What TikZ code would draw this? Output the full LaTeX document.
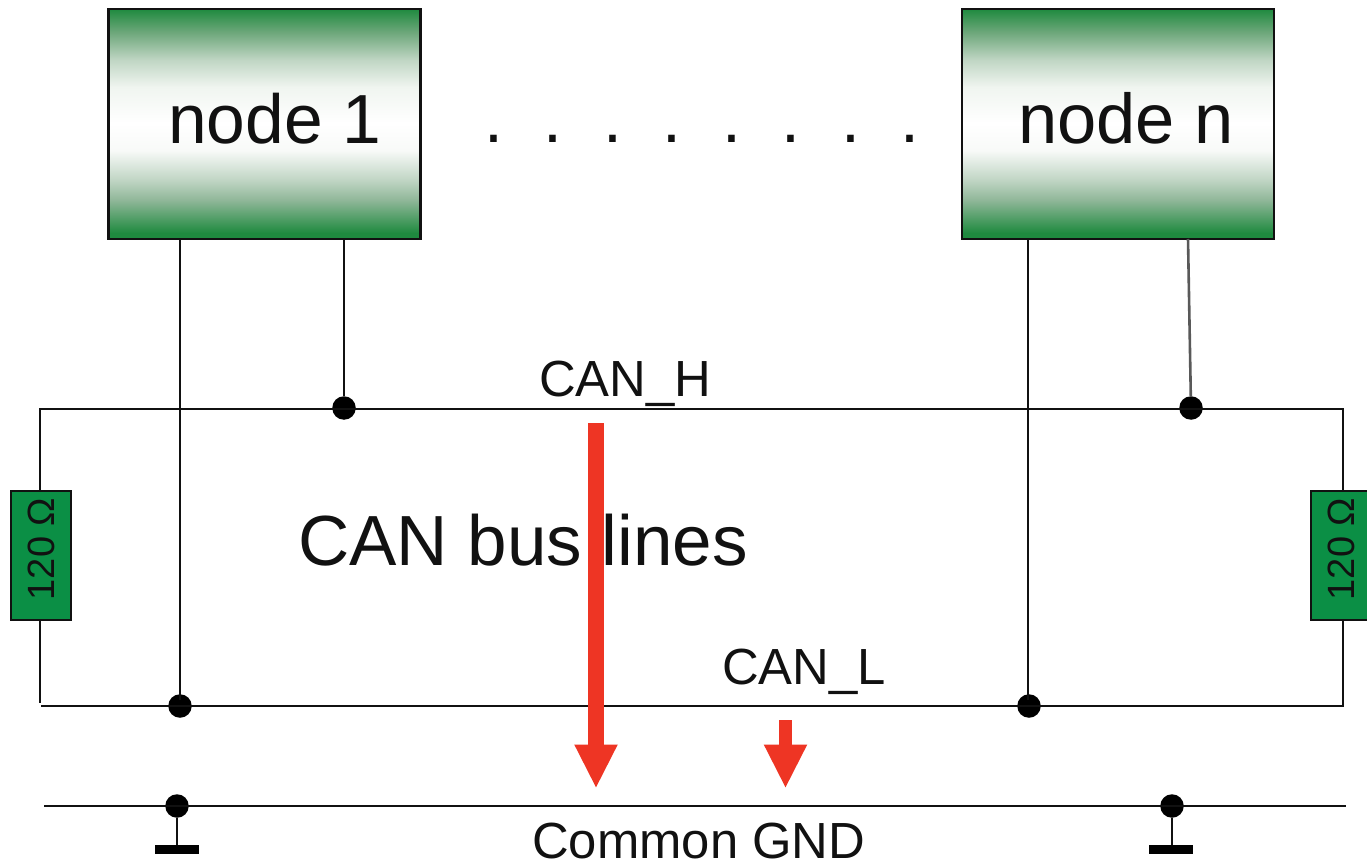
\documentclass[tikz,border=0pt]{standalone}
\usepackage{fontspec}
\setmainfont{Liberation Sans}
\usetikzlibrary{arrows.meta}
\definecolor{boxgreen}{HTML}{1F8A3F}
\definecolor{resgreen}{HTML}{0B8F45}
\definecolor{arrowred}{HTML}{EE3524}
\definecolor{inkblack}{HTML}{111111}
\definecolor{stopa}{RGB}{144,183,153}
\definecolor{stopb}{RGB}{192,213,196}
\definecolor{stopc}{RGB}{248,250,248}
\definecolor{stopd}{RGB}{240,245,240}
\definecolor{stope}{RGB}{192,214,196}
\definecolor{stopf}{RGB}{111,168,124}
\newskip\dotgap
\dotgap=40.6pt
\pgfdeclareverticalshading{boxgrad}{100bp}{
  color(0bp)=(boxgreen);
  color(26.3bp)=(boxgreen);
  color(33.5bp)=(stopa);
  color(37.8bp)=(stopb);
  color(44.3bp)=(stopc);
  color(50.2bp)=(white);
  color(58bp)=(stopd);
  color(63.9bp)=(stope);
  color(69.8bp)=(stopf);
  color(75bp)=(boxgreen);
  color(100bp)=(boxgreen)}
\tikzset{
  x=1pt,y=-1pt,
  wire/.style={draw=inkblack,line width=2.2pt},
  palewire/.style={draw=black!65,line width=2.6pt},
  stationbox/.style={draw=inkblack,line width=2.2pt,shading=boxgrad,minimum width=312pt,minimum height=230pt,inner sep=0pt},
  resistor/.style={draw=inkblack,line width=2.2pt,fill=resgreen,rotate=90,minimum width=129pt,minimum height=60pt,inner sep=0pt,text=inkblack,font=\fontsize{38}{44}\selectfont},
  junction/.style={circle,fill=black,minimum size=23.5pt,inner sep=0pt},
  gndbar/.style={fill=black,minimum width=44pt,minimum height=9pt,inner sep=0pt},
  bigtext/.style={anchor=base west,inner sep=0pt,text=inkblack,font=\fontsize{69.5}{80}\selectfont},
  midtext/.style={anchor=base west,inner sep=0pt,text=inkblack,font=\fontsize{50.8}{60}\selectfont},
  redarrow/.style={draw=arrowred,-{Triangle[length=44pt,width=40pt,fill=arrowred]}},
}
\begin{document}
\begin{tikzpicture}
\clip (0,0) rectangle (1367,866);
\fill[white] (0,0) rectangle (1367,866);
% stations
\node[stationbox] (n1) at (264.5,124) {};
\node[stationbox] (nn) at (1118,124) {};
\node[bigtext] (n1t) at (168,143.5) {node 1};
\node[bigtext,font=\fontsize{70.5}{80}\selectfont] (nnt) at (1018,143.5) {node n};
\node[bigtext,font=\fontsize{68}{80}\selectfont] (dots) at (484,143) {\frenchspacing\spaceskip=\dotgap . . . . . . . .};
% junctions
\node[junction] (jh1) at (344,408) {};
\node[junction] (jhn) at (1191,408) {};
\node[junction] (jl1) at (180,706) {};
\node[junction] (jln) at (1029,706) {};
\node[junction] (g1) at (177,806) {};
\node[junction] (g2) at (1172,806) {};
% resistors
\node[resistor] (r1) at (41,555.5) {\hspace*{13pt}120 Ω};
\node[resistor] (r2) at (1341,555.5) {\hspace*{13pt}120 Ω};
% ground bars
\node[gndbar] (b1) at (176.5,849.5) {};
\node[gndbar] (b2) at (1171,849.5) {};
% free wire ends
\coordinate (a1) at (180,239);
\coordinate (a2) at (344,239);
\coordinate (a3) at (1028,239);
\coordinate (a4) at (1188,239);
\coordinate (hl) at (40,409);
\coordinate (hr) at (1343,409);
\coordinate (ll) at (41,706);
\coordinate (lle) at (40,703);
\coordinate (lr) at (1343,706);
\coordinate (gl) at (44,806);
\coordinate (gr) at (1346,806);
\coordinate (r1t) at (40,491);
\coordinate (r1b) at (40,620);
\coordinate (r2t) at (1343,491);
\coordinate (r2b) at (1343,620);
\coordinate (jl1t) at (180,700);
\coordinate (jln0) at (1028,700);
\coordinate (b1t) at (177,845);
\coordinate (b2t) at (1172,845);
% wires
\draw[wire] (a1) -- (jl1t);
\draw[wire] (a2) -- (jh1);
\draw[wire] (a3) -- (jln0);
\draw[palewire] (a4) -- (jhn);
\draw[wire] (r1t) -- (hl) -- (hr) -- (r2t);
\draw[wire] (r1b) -- (lle);
\draw[wire] (ll) -- (lr) -- (r2b);
\draw[wire] (gl) -- (gr);
\draw[wire] (g1) -- (b1t);
\draw[wire] (g2) -- (b2t);
% labels
\node[midtext] (canh) at (539,396) {CAN\_H};
\node[midtext] (canl) at (722,684) {CAN\_L};
\node[midtext] (gnd) at (532,858) {Common GND};
\node[bigtext,font=\fontsize{71}{82}\selectfont] (bus) at (298,565.5) {CAN bus lines};
% red arrows
\coordinate (ra1) at (596,423);
\coordinate (ra2) at (596,788.5);
\coordinate (rb1) at (785.5,720);
\coordinate (rb2) at (785.5,788.5);
\draw[redarrow,line width=16pt] (ra1) -- (ra2);
\draw[redarrow,line width=13pt] (rb1) -- (rb2);
\end{tikzpicture}
\end{document}
